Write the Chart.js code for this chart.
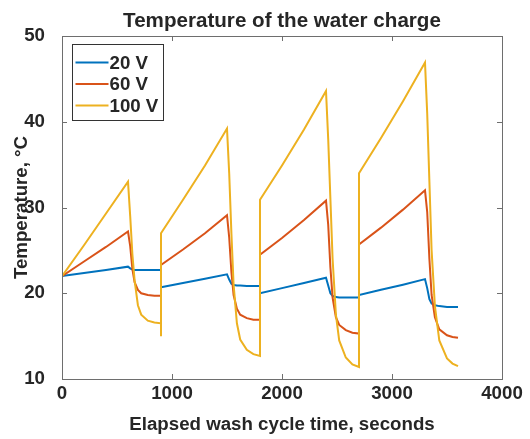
<!DOCTYPE html>
<html>
<head>
<meta charset="utf-8">
<script src="https://cdn.jsdelivr.net/npm/chart.js@4.4.1/dist/chart.umd.min.js"></script>
<style>
  html, body { margin:0; padding:0; background:#fff; }
  #wrap { width:530px; height:439px; }
</style>
</head>
<body>
<div id="wrap"><canvas id="chart" width="530" height="439"></canvas></div>
<script>
// elapsed time (s), shared by the three runs; repeated times are the vertical jumps
const timeSec = [
  0, 0, 200, 400, 600, 620, 640, 660, 690, 720, 780, 840, 900, 900, 900,
  1100, 1300, 1500, 1520, 1540, 1560, 1590, 1620, 1680, 1740, 1800, 1800,
  2000, 2200, 2400, 2420, 2440, 2460, 2490, 2520, 2580, 2640, 2700, 2700, 2700,
  2900, 3100, 3300, 3320, 3340, 3360, 3390, 3430, 3500, 3550, 3600
];

// water temperature (degC)
const temp20V = [
  22, 22, 22.35, 22.7, 23.1, 22.9, 22.75, 22.7, 22.7, 22.7, 22.7, 22.7, 22.7, 22.7, 20.7,
  21.2, 21.7, 22.2, 21.6, 21.1, 20.95, 20.9, 20.9, 20.85, 20.85, 20.85, 20.0,
  20.6, 21.2, 21.8, 20.9, 20.0, 19.7, 19.55, 19.5, 19.5, 19.5, 19.5, 17.2, 19.8,
  20.4, 21.0, 21.65, 20.6, 19.3, 18.8, 18.6, 18.5, 18.4, 18.4, 18.4
];
const temp60V = [
  22, 22, 23.7, 25.4, 27.2, 25.5, 22.8, 21.3, 20.4, 20.0, 19.8, 19.7, 19.7, 19.7, 23.3,
  25.1, 27.0, 29.1, 26.5, 22.5, 19.8, 18.2, 17.5, 17.1, 16.9, 16.9, 24.5,
  26.45, 28.55, 30.8, 28.0, 23.0, 19.5, 17.2, 16.3, 15.7, 15.4, 15.3, 15.3, 25.7,
  27.65, 29.75, 32.0, 29.5, 24.0, 19.8, 17.2, 15.8, 15.1, 14.9, 14.8
];
const temp100V = [
  15, 22, 25.6, 29.3, 33.0, 29.0, 24.5, 21.5, 18.6, 17.5, 16.8, 16.6, 16.5, 15.0, 27.0,
  30.9, 34.9, 39.2, 34.0, 27.0, 21.0, 16.5, 14.6, 13.4, 12.9, 12.7, 30.9,
  34.9, 39.1, 43.6, 38.0, 31.0, 24.0, 17.5, 14.5, 12.5, 11.7, 11.4, 11.4, 34.0,
  38.1, 42.4, 46.9, 41.0, 33.0, 25.0, 18.5, 14.5, 12.4, 11.8, 11.5
];

const seriesNames = ['20 V', '60 V', '100 V'];
const seriesColors = ['#0072BD', '#D95319', '#EDB120'];
const xTicks = [0, 1000, 2000, 3000, 4000];
const yTicks = [10, 20, 30, 40, 50];

const FONT = '"Liberation Sans", Arial, Helvetica, sans-serif';
const FS = 18.7;          // axes text
const AXIS = '#6e6e6e';
const INK = '#262626';

const pts = vals => timeSec.map((t, i) => ({ x: t, y: vals[i] }));

// title, box, inward ticks and the legend, MATLAB style
const matlabLook = {
  id: 'matlabLook',
  afterDraw(chart) {
    const { ctx, chartArea: a, scales } = chart;
    ctx.save();

    // title centred over the axes
    ctx.fillStyle = INK;
    ctx.font = 'bold 20.6px ' + FONT;
    ctx.textAlign = 'center';
    ctx.textBaseline = 'alphabetic';
    ctx.fillText('Temperature of the water charge', (a.left + a.right) / 2, 27);

    // axes box
    ctx.strokeStyle = AXIS;
    ctx.lineWidth = 1;
    ctx.strokeRect(Math.round(a.left) + 0.5, Math.round(a.top) + 0.5,
                   Math.round(a.right - a.left), Math.round(a.bottom - a.top));

    // inward tick marks on all four sides
    const tl = 5;
    ctx.beginPath();
    xTicks.forEach(v => {
      const px = Math.round(scales.x.getPixelForValue(v)) + 0.5;
      ctx.moveTo(px, a.bottom); ctx.lineTo(px, a.bottom - tl);
      ctx.moveTo(px, a.top); ctx.lineTo(px, a.top + tl);
    });
    yTicks.forEach(v => {
      const py = Math.round(scales.y.getPixelForValue(v)) + 0.5;
      ctx.moveTo(a.left, py); ctx.lineTo(a.left + tl, py);
      ctx.moveTo(a.right, py); ctx.lineTo(a.right - tl, py);
    });
    ctx.stroke();

    // legend box, top-left inside the axes
    const lx = a.left + 10.5, ly = a.top + 8.5, lw = 91, lh = 76;
    ctx.fillStyle = '#fff';
    ctx.fillRect(lx, ly, lw, lh);
    ctx.strokeStyle = '#333';
    ctx.strokeRect(lx, ly, lw, lh);
    ctx.font = 'bold ' + FS + 'px ' + FONT;
    ctx.textAlign = 'left';
    ctx.textBaseline = 'middle';
    chart.data.datasets.forEach((ds, i) => {
      const yy = ly + 18 + i * 21.5;
      ctx.strokeStyle = ds.borderColor;
      ctx.lineWidth = 2;
      ctx.beginPath();
      ctx.moveTo(lx + 3, yy); ctx.lineTo(lx + 36, yy);
      ctx.stroke();
      ctx.fillStyle = INK;
      ctx.fillText(ds.label, lx + 37, yy + 1);
    });
    ctx.restore();
  }
};

new Chart(document.getElementById('chart'), {
  type: 'line',
  data: {
    datasets: [
      { label: seriesNames[0], data: pts(temp20V), borderColor: seriesColors[0], order: 2 },
      { label: seriesNames[1], data: pts(temp60V), borderColor: seriesColors[1], order: 1 },
      { label: seriesNames[2], data: pts(temp100V), borderColor: seriesColors[2], order: 0 }
    ].map(d => ({ ...d, borderWidth: 2, pointRadius: 0, tension: 0, fill: false }))
  },
  options: {
    responsive: false,
    animation: false,
    layout: { padding: { top: 36, right: 28, left: 0, bottom: 0 } },
    plugins: {
      legend: { display: false },
      title: { display: false },
      tooltip: { enabled: false }
    },
    scales: {
      x: {
        type: 'linear', min: 0, max: 4000,
        afterBuildTicks: s => { s.ticks = xTicks.map(v => ({ value: v })); },
        afterFit: s => { s.height = 60; },
        grid: { display: false },
        border: { display: false },
        ticks: { color: INK, padding: -4, maxRotation: 0, callback: v => String(v),
                 font: { family: FONT, size: FS, weight: 'bold' } },
        title: { display: true, text: 'Elapsed wash cycle time, seconds', color: INK,
                 padding: { top: 0, bottom: 3 }, font: { family: FONT, size: FS, weight: 'bold' } }
      },
      y: {
        min: 10, max: 50,
        afterBuildTicks: s => { s.ticks = yTicks.map(v => ({ value: v })); },
        afterFit: s => { s.width = 62; },
        grid: { display: false },
        border: { display: false },
        ticks: { color: INK, padding: 9, font: { family: FONT, size: FS, weight: 'bold' } },
        title: { display: true, text: 'Temperature, °C', color: INK,
                 padding: { top: 11, bottom: 0 }, font: { family: FONT, size: FS, weight: 'bold' } }
      }
    }
  },
  plugins: [matlabLook]
});
</script>
</body>
</html>
